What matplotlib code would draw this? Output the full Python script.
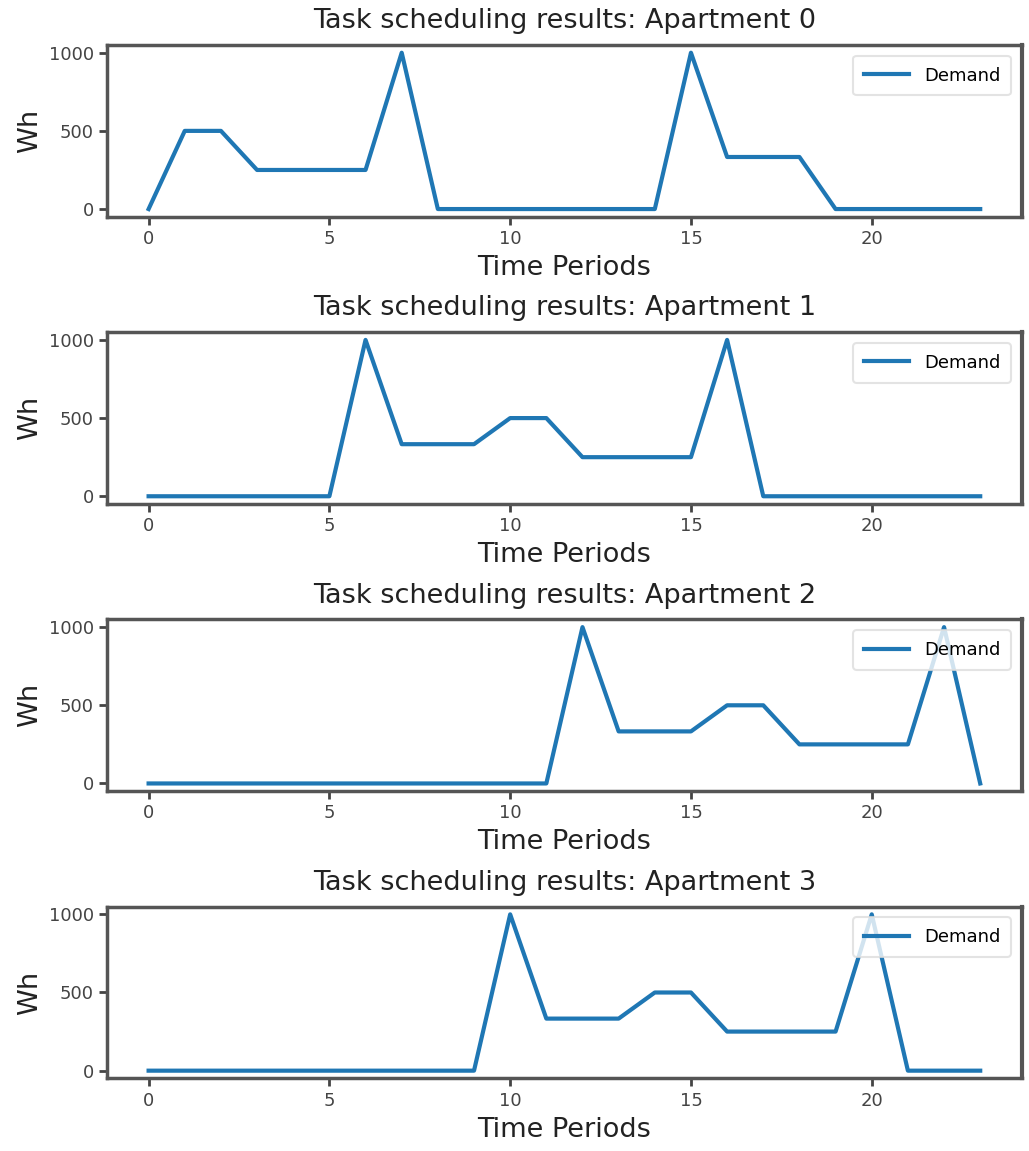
import matplotlib
matplotlib.use("Agg")
import matplotlib.pyplot as plt
import numpy as np

# hourly demand (Wh) per apartment
hours = np.arange(24)
apt0 = [0, 500, 500, 250, 250, 250, 250, 1000, 0, 0, 0, 0, 0, 0, 0, 1000,
        333, 333, 333, 0, 0, 0, 0, 0]
apt1 = [0, 0, 0, 0, 0, 0, 1000, 333, 333, 333, 500, 500, 250, 250, 250, 250,
        1000, 0, 0, 0, 0, 0, 0, 0]
apt2 = [0, 0, 0, 0, 0, 0, 0, 0, 0, 0, 0, 0, 1000, 333, 333, 333, 500, 500,
        250, 250, 250, 250, 1000, 0]
apt3 = [0, 0, 0, 0, 0, 0, 0, 0, 0, 0, 1000, 333, 333, 333, 500, 500, 250, 250,
        250, 250, 1000, 0, 0, 0]
apartments = [apt0, apt1, apt2, apt3]

fig, axes = plt.subplots(4, 1, figsize=(10.29, 11.51), dpi=100)
fig.subplots_adjust(left=0.104, right=0.993, top=0.961, bottom=0.063, hspace=0.67)

for i, ax in enumerate(axes):
    ax.plot(hours, apartments[i], color='#1f77b4', linewidth=3, label='Demand')
    ax.set_title('Task scheduling results: Apartment %d' % i, fontsize=19.5,
                 color='#222222', pad=12)
    ax.set_xlabel('Time Periods', fontsize=19.5, color='#222222', labelpad=5)
    ax.set_ylabel('Wh', fontsize=19.5, color='#222222')
    ax.set_xticks([0, 5, 10, 15, 20])
    ax.set_yticks([0, 500, 1000])
    ax.tick_params(labelsize=13, colors='#444444', length=6, width=2)
    for side in ['left', 'bottom', 'top']:
        ax.spines[side].set_color('#555555')
        ax.spines[side].set_linewidth(2.5)
    ax.spines['right'].set_color('#555555')
    ax.spines['right'].set_linewidth(3)
    leg = ax.legend(loc='upper right', fontsize=13, handlelength=2.5,
                    borderpad=0.6, borderaxespad=0.6)
    leg.get_frame().set_edgecolor('#dddddd')
    leg.get_frame().set_linewidth(1.5)

fig.savefig('out.png', dpi=100)
